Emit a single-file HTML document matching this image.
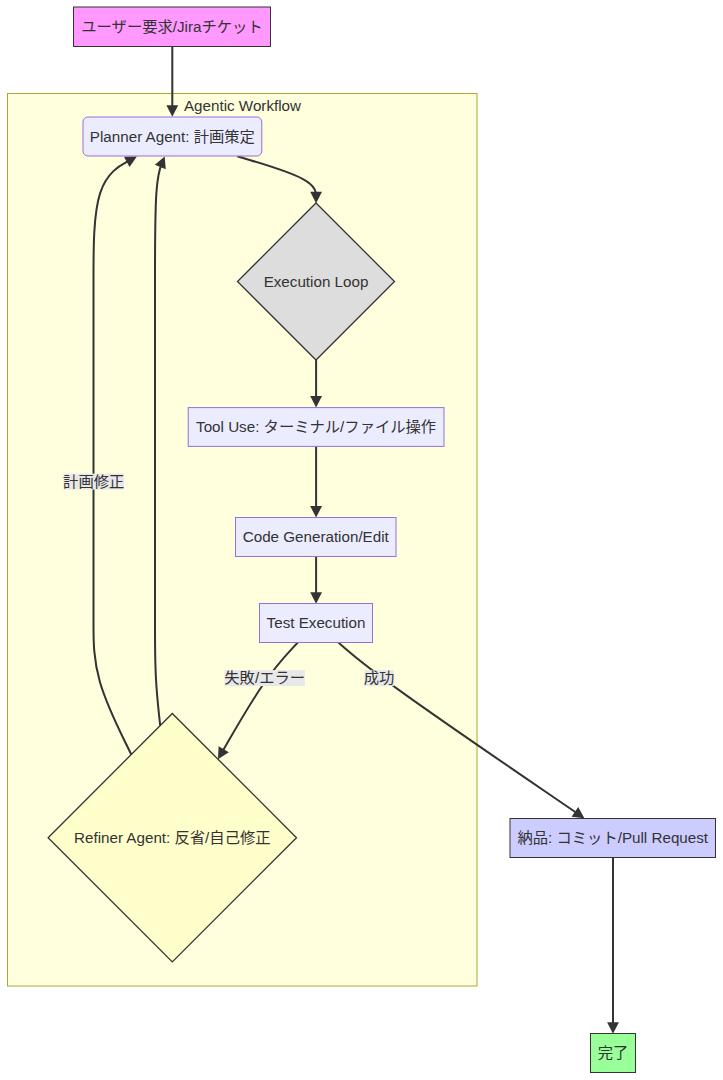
<!DOCTYPE html>
<html lang="ja"><head><meta charset="utf-8"><title>Agentic Workflow</title>
<style>
html,body{margin:0;padding:0;background:#fff;}
body{width:723px;height:1080px;overflow:hidden;}
svg{display:block;font-family:"Liberation Sans", "Noto Sans CJK JP", sans-serif;font-size:15.2px;}
text{fill:#333;text-anchor:middle;dominant-baseline:auto;}
.c{font-size:15.3px;}
.node{fill:#ECECFF;stroke:#9370DB;stroke-width:1;}
.edge{fill:none;stroke:#333;stroke-width:2;}
.ah{fill:#333;}
.lbl{fill:#e8e8e8;fill-opacity:1;}
</style></head><body>
<svg width="723" height="1080" viewBox="0 0 723 1080">

<rect x="7.5" y="93.5" width="469.5" height="892.5" fill="#ffffde" stroke="#aaaa33" stroke-width="1"/>
<text x="242.5" y="110.8">Agentic Workflow</text>
<path class="edge" d="M172.30,46.50 L172.30,112.80"/>
<polygon class="ah" points="172.30,116.80 166.40,105.30 178.20,105.30"/>
<path class="edge" d="M237.30,156.30 L250.43,160.20 C263.57,164.10 289.83,171.90 302.97,179.05 C316.10,186.20 316.10,192.70 316.10,195.95 L316.10,199.20"/>
<polygon class="ah" points="316.10,203.20 310.20,191.70 322.00,191.70"/>
<path class="edge" d="M316.10,360.00 L316.10,403.50"/>
<polygon class="ah" points="316.10,407.50 310.20,396.00 322.00,396.00"/>
<path class="edge" d="M316.10,446.50 L316.10,513.60"/>
<polygon class="ah" points="316.10,517.60 310.20,506.10 322.00,506.10"/>
<path class="edge" d="M316.10,556.50 L316.10,599.80"/>
<polygon class="ah" points="316.10,603.80 310.20,592.30 322.00,592.30"/>
<path class="edge" d="M297.80,642.50 L292.28,648.42 C286.77,654.33 275.73,666.17 262.77,685.04 C249.80,703.91 234.90,729.82 227.45,742.78 L219.99,755.73"/>
<polygon class="ah" points="218.00,759.20 218.62,746.29 228.85,752.17"/>
<path class="edge" d="M338.40,642.50 L345.20,648.42 C352.00,654.33 365.60,666.17 406.05,695.09 C446.50,724.01 513.80,770.03 547.45,793.04 L581.10,816.04"/>
<polygon class="ah" points="584.40,818.30 571.58,816.68 578.24,806.94"/>
<path class="edge" d="M131.30,754.50 L125.00,741.75 C118.70,729.00 106.10,703.50 99.80,681.58 C93.50,659.67 93.50,641.33 93.50,625.00 C93.50,608.67 93.50,594.33 93.50,580.00 C93.50,565.67 93.50,551.33 93.50,535.00 C93.50,518.67 93.50,500.33 93.50,482.00 C93.50,463.67 93.50,445.33 93.50,424.08 C93.50,402.83 93.50,378.67 93.50,354.42 C93.50,330.17 93.50,305.83 93.50,276.70 C93.50,247.57 93.50,213.63 100.15,193.10 C106.79,172.56 120.08,165.43 126.73,161.86 L133.38,158.29"/>
<polygon class="ah" points="136.90,156.40 129.56,167.04 123.98,156.64"/>
<path class="edge" d="M160.20,725.60 L159.33,717.67 C158.47,709.73 156.73,693.87 155.87,676.77 C155.00,659.67 155.00,641.33 155.00,625.00 C155.00,608.67 155.00,594.33 155.00,580.00 C155.00,565.67 155.00,551.33 155.00,535.00 C155.00,518.67 155.00,500.33 155.00,482.00 C155.00,463.67 155.00,445.33 155.00,424.08 C155.00,402.83 155.00,378.67 155.00,354.42 C155.00,330.17 155.00,305.83 155.00,276.70 C155.00,247.57 155.00,213.63 156.36,193.40 C157.72,173.16 160.44,166.63 161.80,163.36 L163.16,160.09"/>
<polygon class="ah" points="164.70,156.40 165.73,169.28 154.83,164.75"/>
<path class="edge" d="M613.00,857.50 L613.00,1029.80"/>
<polygon class="ah" points="613.00,1033.80 607.10,1022.30 618.90,1022.30"/>
<rect class="lbl" x="63.5" y="473.6" width="60.5" height="16"/>
<text x="93.7" y="486.90"><tspan class="c">計画修正</tspan></text>
<rect class="lbl" x="224.4" y="670.1" width="80.5" height="16"/>
<text x="264.7" y="683.4"><tspan class="c">失敗</tspan>/<tspan class="c">エラー</tspan></text>
<rect class="lbl" x="364.3" y="670.1" width="29.6" height="16"/>
<text x="379.1" y="683.4"><tspan class="c">成功</tspan></text>
<rect class="node" x="73.5" y="7" width="197.0" height="39.5" rx="0" ry="0" style="fill:#ff99ff;stroke:#333;"/>
<text x="172.0" y="32.05"><tspan class="c">ユーザー要求</tspan>/Jira<tspan class="c">チケット</tspan></text>
<rect class="node" x="83" y="117" width="178.8" height="39" rx="5" ry="5" style=""/>
<text x="172.4" y="141.8">Planner Agent: <tspan class="c">計画策定</tspan></text>
<polygon points="316,203.0 394.5,281.5 316,360.0 237.5,281.5" fill="#dddddd" stroke="#333" stroke-width="1.3"/>
<text x="316" y="286.8">Execution Loop</text>
<rect class="node" x="188.2" y="407.6" width="255.8" height="38.79" rx="0" ry="0" style=""/>
<text x="316.1" y="432.3">Tool Use: <tspan class="c">ターミナル</tspan>/<tspan class="c">ファイル操作</tspan></text>
<rect class="node" x="235.5" y="517.5" width="160.5" height="39.0" rx="0" ry="0" style=""/>
<text x="315.75" y="542.3">Code Generation/Edit</text>
<rect class="node" x="259.5" y="603.5" width="113.0" height="39.0" rx="0" ry="0" style=""/>
<text x="316.0" y="628.3">Test Execution</text>
<polygon points="172.3,713.5 296.5,837.7 172.3,961.90 48.10,837.7" fill="#ffffcc" stroke="#333" stroke-width="1.3"/>
<text x="172.3" y="843.0">Refiner Agent: <tspan class="c">反省</tspan>/<tspan class="c">自己修正</tspan></text>
<rect class="node" x="510" y="818.5" width="205.5" height="39.0" rx="0" ry="0" style="fill:#ccccff;stroke:#333;"/>
<text x="612.75" y="843.3"><tspan class="c">納品</tspan>: <tspan class="c">コミット</tspan>/Pull Request</text>
<rect class="node" x="590.5" y="1033.5" width="45.0" height="39.0" rx="0" ry="0" style="fill:#99ff99;stroke:#333;"/>
<text x="613.0" y="1058.3"><tspan class="c">完了</tspan></text>
</svg></body></html>
